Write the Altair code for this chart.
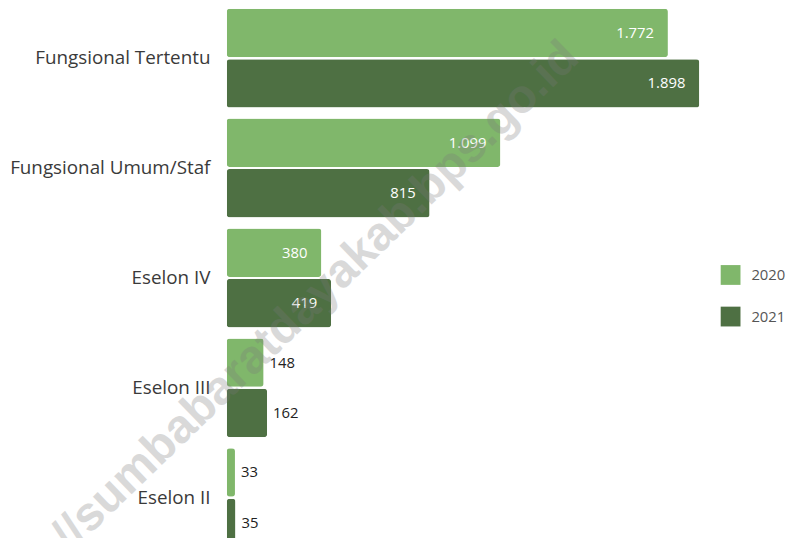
import altair as alt
import pandas as pd

categories = ["Fungsional Tertentu", "Fungsional Umum/Staf", "Eselon IV", "Eselon III", "Eselon II"]
years = ["2020", "2021"]
values_2020 = [1772, 1099, 380, 148, 33]
values_2021 = [1898, 815, 419, 162, 35]
labels_2020 = ["1.772", "1.099", "380", "148", "33"]
labels_2021 = ["1.898", "815", "419", "162", "35"]
colors = ["#80b76b", "#4e7043"]
watermark = ["http://sumbabaratdayakab.bps.go.id"]

rows = []
for c, v, l in zip(categories, values_2020, labels_2020):
    rows.append({"cat": c, "year": "2020", "value": v, "label": l})
for c, v, l in zip(categories, values_2021, labels_2021):
    rows.append({"cat": c, "year": "2021", "value": v, "label": l})
df = pd.DataFrame(rows)

FONT = "Open Sans"

y_enc = alt.Y("cat:N", sort=categories, title=None,
              scale=alt.Scale(paddingInner=0.1, paddingOuter=0, range=[-2, 542]),
              axis=alt.Axis(labelFontSize=19, labelColor="#3a3a3a", labelFont=FONT,
                            ticks=False, domain=False, labelPadding=17, labelLimit=300))
x_enc = alt.X("value:Q", scale=alt.Scale(domain=[0, 2000], nice=False), axis=None)
yoff = alt.YOffset("year:N", sort=years, scale=alt.Scale(paddingInner=0.04))

base = alt.Chart(df)

bars = base.mark_bar(cornerRadius=3).encode(
    y=y_enc, x=x_enc, yOffset=yoff,
    color=alt.Color("year:N", sort=years,
                    scale=alt.Scale(domain=years, range=colors),
                    legend=alt.Legend(title=None, orient="none", legendX=499, legendY=257,
                                      symbolType="square", symbolSize=400, symbolStrokeWidth=0,
                                      symbolOpacity=1, labelFontSize=15, labelColor="#555555",
                                      labelFont=FONT, rowPadding=22, labelOffset=11)),
)

inside = base.transform_filter("datum.value > 300").mark_text(
    align="right", baseline="middle", dx=-14, color="white", fontSize=15, font=FONT
).encode(y=y_enc, x=x_enc, yOffset=yoff, text="label:N")

outside = base.transform_filter("datum.value <= 300").mark_text(
    align="left", baseline="middle", dx=6, color="#222222", fontSize=15, font=FONT
).encode(y=y_enc, x=x_enc, yOffset=yoff, text="label:N")

wm = alt.Chart(pd.DataFrame({"t": watermark})).mark_text(
    align="right", baseline="alphabetic", angle=316, fontSize=48, fontWeight="bold",
    font="Liberation Sans", color="#7a7a7a", opacity=0.28
).encode(x=alt.value(358), y=alt.value(50), text="t:N")

chart = alt.layer(bars, inside, outside, wm).properties(
    width=503, height=530,
    autosize=alt.AutoSizeParams(type="none"),
    padding={"left": 221, "top": 0, "right": 64, "bottom": 0},
).configure_view(stroke=None)

chart.save("out.html", embed_options={"renderer": "svg", "actions": False})
